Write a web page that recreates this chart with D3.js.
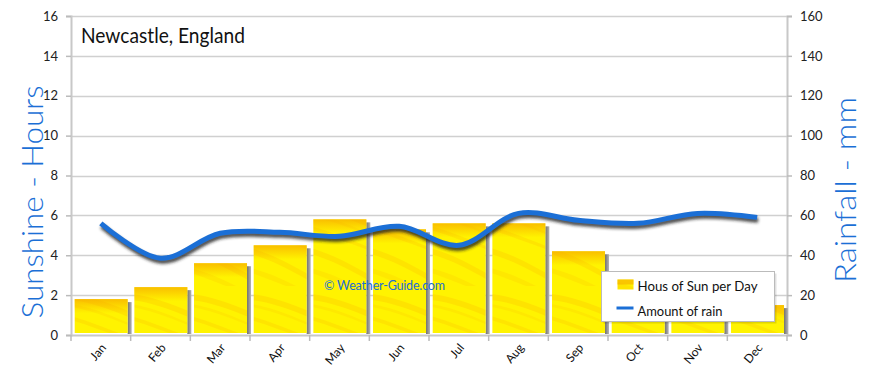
<!DOCTYPE html>
<html>
<head>
<meta charset="utf-8">
<script src="https://cdn.jsdelivr.net/npm/d3@7"></script>
<style>
body{margin:0;background:#fff;}
text{font-family:Lato,"Noto Sans",sans-serif;}
</style>
</head>
<body>
<div id="content"></div>
<script>
//chart data
var months=['Jan','Feb','Mar','Apr','May','Jun','Jul','Aug','Sep','Oct','Nov','Dec'];
var sun_hours=[1.8,2.4,3.6,4.5,5.8,5.3,5.6,5.6,4.2,3.2,2.1,1.5];
var rain_mm=[56,38.5,51,51.5,49.5,54.5,45,61,57.5,56,61,59];
var sun_ticks=[0,2,4,6,8,10,12,14,16];
var rain_ticks=[0,20,40,60,80,100,120,140,160];
var title='Newcastle, England';
var left_label='Sunshine - Hours';
var right_label='Rainfall - mm';
var legend_labels=['Hous of Sun per Day','Amount of rain'];
var watermark='\u00a9  Weather-Guide.com';

var svg_width=870, svg_height=374;
var margin={top:16, right:83, bottom:39, left:71};
var chart_width=svg_width-margin.left-margin.right;
var chart_height=svg_height-margin.top-margin.bottom;
var blue='#1b6fd6';
var grid='#d0d0d0';

var svg=d3.select('#content').append('svg')
	.attr('width',svg_width).attr('height',svg_height);

var defs=svg.append('defs');

//yellow texture with soft orange streaks for the bars
var pat=defs.append('pattern').attr('id','sunTex')
	.attr('patternUnits','userSpaceOnUse').attr('width',60).attr('height',90);
pat.append('rect').attr('width',60).attr('height',90).attr('fill','#fff300');
[['M0,8 C20,10 40,18 60,26 L60,32 C40,24 20,16 0,14 Z',0.22],
 ['M0,30 C20,36 40,44 60,52 L60,55 C40,48 20,40 0,34 Z',0.18],
 ['M0,52 C20,58 40,68 60,80 L60,86 C40,74 20,64 0,58 Z',0.2],
 ['M0,72 C15,76 30,82 45,90 L35,90 C25,86 10,80 0,77 Z',0.15],
 ['M0,18 C25,22 45,32 60,38 L60,40 C45,35 25,25 0,21 Z',0.12]].forEach(function(p){
	pat.append('path').attr('d',p[0]).attr('fill','#f8a800').attr('opacity',p[1]);
});

var topGrad=defs.append('linearGradient').attr('id','topGrad')
	.attr('x1',0).attr('y1',0).attr('x2',0).attr('y2',1);
topGrad.append('stop').attr('offset','0%').attr('stop-color','#f7a800').attr('stop-opacity',0.7);
topGrad.append('stop').attr('offset','100%').attr('stop-color','#f7a800').attr('stop-opacity',0);

var shadowGrad=defs.append('linearGradient').attr('id','shadowGrad')
	.attr('x1',0).attr('y1',0).attr('x2',1).attr('y2',0);
shadowGrad.append('stop').attr('offset','0%').attr('stop-color','#707070');
shadowGrad.append('stop').attr('offset','100%').attr('stop-color','#b4b4b4');

var blur=defs.append('filter').attr('id','blur')
	.attr('x','-5%').attr('y','-30%').attr('width','110%').attr('height','160%');
blur.append('feGaussianBlur').attr('stdDeviation',1.4);

//scales
var xScale=d3.scaleBand().domain(months).range([0,chart_width]);
var ySun=d3.scaleLinear().domain([0,16]).range([chart_height,0]);
var yRain=d3.scaleLinear().domain([0,160]).range([chart_height,0]);

var g=svg.append('g').attr('transform','translate('+margin.left+','+margin.top+')');

//grid lines
g.append('g').selectAll('line').data(sun_ticks.slice(1)).enter().append('line')
	.attr('x1',0).attr('x2',chart_width)
	.attr('y1',function(d){return Math.round(ySun(d))+0.5;})
	.attr('y2',function(d){return Math.round(ySun(d))+0.5;})
	.attr('stroke',grid).attr('stroke-width',1.5);

//left axis
var leftAxis=g.append('g').call(d3.axisLeft(ySun).tickValues(sun_ticks).tickSize(5).tickPadding(8));
//right axis
var rightAxis=g.append('g').attr('transform','translate('+chart_width+',0)')
	.call(d3.axisRight(yRain).tickValues(rain_ticks).tickSize(5).tickPadding(8));
//bottom axis
var bottomAxis=g.append('g').attr('transform','translate(0,'+chart_height+')')
	.call(d3.axisBottom(xScale).tickSize(0).tickFormat(''));
bottomAxis.selectAll('.sep').data(d3.range(months.length+1)).enter().append('line')
	.attr('x1',function(i){return i*xScale.bandwidth();})
	.attr('x2',function(i){return i*xScale.bandwidth();})
	.attr('y1',0).attr('y2',6).attr('stroke','#bbb').attr('stroke-width',1.5);

[leftAxis,rightAxis,bottomAxis].forEach(function(a){
	a.select('.domain').attr('stroke','#c8c8c8').attr('stroke-width',2);
	a.selectAll('.tick line').attr('stroke','#bbb').attr('stroke-width',1.5);
	a.selectAll('.tick text').attr('font-size',13).attr('fill','#222').style('font-family','Lato,"Noto Sans",sans-serif');
});

//month labels
g.append('g').selectAll('text').data(months).enter().append('text')
	.attr('transform',function(d){return 'translate('+(xScale(d)+xScale.bandwidth()/2+6)+','+(chart_height+13)+') rotate(-50)';})
	.attr('text-anchor','end')
	.attr('font-size',12).attr('fill','#111')
	.text(function(d){return d;});

//bars
var bw=xScale.bandwidth();
var bars=g.append('g').selectAll('g').data(months).enter().append('g');
bars.append('rect')
	.attr('x',function(d){return xScale(d)+bw*0.062+bw*0.888;})
	.attr('y',function(d,i){return ySun(sun_hours[i])+3;})
	.attr('width',4)
	.attr('height',function(d,i){return chart_height-ySun(sun_hours[i])-4;})
	.attr('fill','url(#shadowGrad)');
bars.append('rect')
	.attr('x',function(d){return xScale(d)+bw*0.062;})
	.attr('y',function(d,i){return ySun(sun_hours[i]);})
	.attr('width',bw*0.888)
	.attr('height',function(d,i){return chart_height-ySun(sun_hours[i])-2;})
	.attr('fill','url(#sunTex)');
bars.append('rect')
	.attr('x',function(d){return xScale(d)+bw*0.062;})
	.attr('y',function(d,i){return ySun(sun_hours[i]);})
	.attr('width',bw*0.888)
	.attr('height',function(d,i){return Math.min(14,chart_height-ySun(sun_hours[i])-2);})
	.attr('fill','url(#topGrad)');

//rain line
var line=d3.line()
	.x(function(d,i){return xScale(months[i])+bw/2;})
	.y(function(d){return yRain(d);})
	.curve(d3.curveCatmullRom.alpha(0.5));

g.append('path').datum(rain_mm)
	.attr('d',line).attr('fill','none')
	.attr('stroke','#222').attr('stroke-opacity',0.8).attr('stroke-width',5)
	.attr('transform','translate(1,3)').attr('filter','url(#blur)');
g.append('path').datum(rain_mm)
	.attr('d',line).attr('fill','none')
	.attr('stroke',blue).attr('stroke-width',5).attr('stroke-linecap','butt');

//watermark
svg.append('text').attr('x',324).attr('y',290)
	.attr('font-size',12.5).attr('fill',blue).attr('textLength',121)
	.text(watermark);

//title
svg.append('text').attr('x',81).attr('y',43)
	.attr('font-size',22).attr('fill','#111').attr('textLength',164).attr('lengthAdjust','spacingAndGlyphs')
	.text(title);

//axis titles
svg.append('text').attr('transform','translate(43,'+202+') rotate(-90)')
	.attr('text-anchor','middle').attr('font-size',29).attr('font-weight',300).attr('fill',blue)
	.attr('textLength',233).attr('lengthAdjust','spacingAndGlyphs')
	.text(left_label);
svg.append('text').attr('transform','translate(856,'+190+') rotate(-90)')
	.attr('text-anchor','middle').attr('font-size',29).attr('font-weight',300).attr('fill',blue)
	.attr('textLength',186).attr('lengthAdjust','spacingAndGlyphs')
	.text(right_label);

//legend
var legend=svg.append('g').attr('transform','translate(601.5,271.5)');
legend.append('rect').attr('x',2).attr('y',2).attr('width',173).attr('height',50)
	.attr('fill','#000').attr('opacity',0.12);
legend.append('rect').attr('width',173).attr('height',50)
	.attr('fill','#fff').attr('stroke','#bbb');
legend.append('rect').attr('x',16).attr('y',8).attr('width',16).attr('height',10)
	.attr('fill','url(#sunTex)');
legend.append('rect').attr('x',16).attr('y',8).attr('width',16).attr('height',5)
	.attr('fill','#f7a800').attr('opacity',0.6);
legend.append('line').attr('x1',15).attr('x2',32).attr('y1',36.5).attr('y2',36.5)
	.attr('stroke',blue).attr('stroke-width',3);
legend.selectAll('.legend_label').data(legend_labels).enter().append('text')
	.attr('class','legend_label')
	.attr('x',36).attr('y',function(d,i){return 19+i*25;})
	.attr('font-size',14).attr('fill','#111')
	.attr('textLength',function(d,i){return i==0?120:85;})
	.attr('lengthAdjust','spacingAndGlyphs')
	.text(function(d){return d;});
</script>
</body>
</html>
